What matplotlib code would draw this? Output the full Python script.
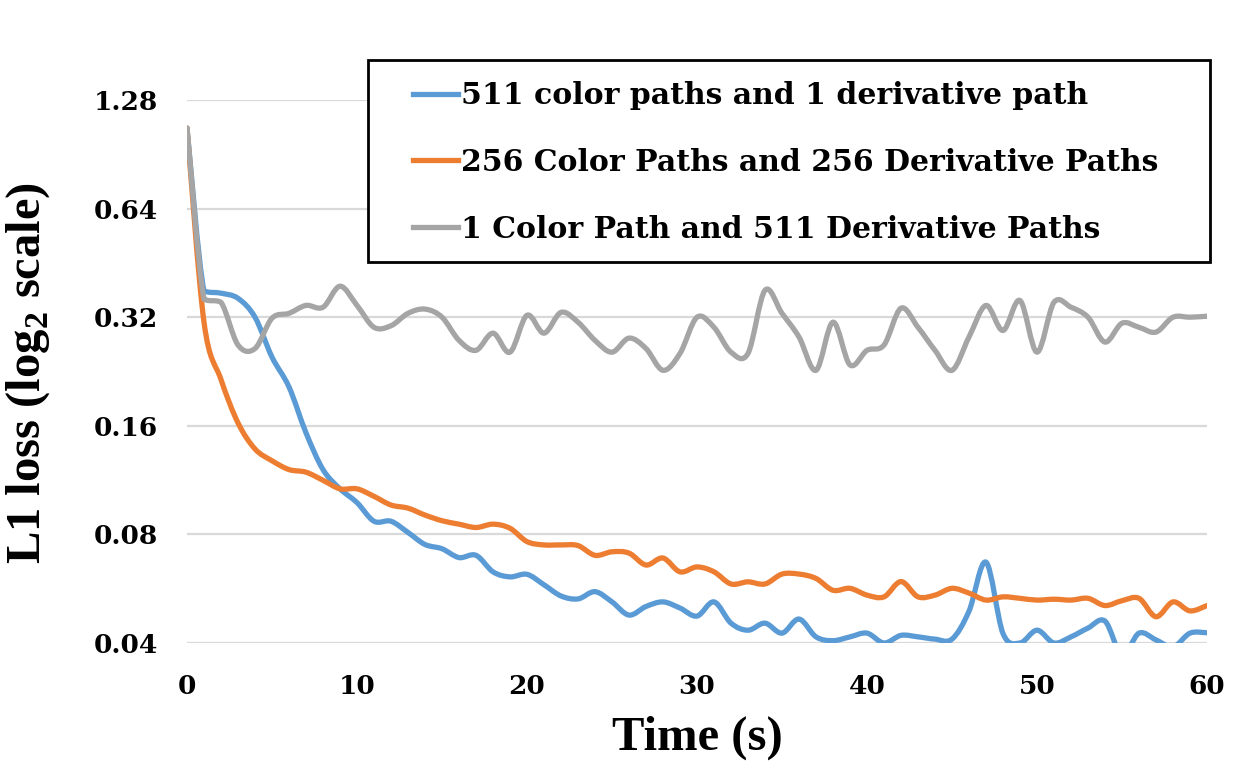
import numpy as np
import matplotlib.pyplot as plt
from matplotlib.path import Path
from matplotlib.patches import PathPatch, Rectangle
from matplotlib.lines import Line2D
from matplotlib.ticker import FixedLocator, NullLocator

# data (seconds, L1 loss)
time_s = list(range(61))

blue = [1.07, 0.378, 0.373, 0.361, 0.320, 0.248, 0.205, 0.153, 0.121, 0.107,
        0.098, 0.087, 0.087, 0.081, 0.075, 0.073, 0.069, 0.070, 0.063, 0.061,
        0.062, 0.058, 0.054, 0.053, 0.0555, 0.052, 0.0478, 0.0505, 0.052, 0.050,
        0.0475, 0.052, 0.0454, 0.0434, 0.0454, 0.0426, 0.0466, 0.0416, 0.0406, 0.0416,
        0.0426, 0.040, 0.042, 0.0416, 0.041, 0.041, 0.049, 0.067, 0.0425, 0.040,
        0.0434, 0.040, 0.0416, 0.044, 0.046, 0.037, 0.0426, 0.0408, 0.039, 0.0426,
        0.0427]

orange = [1.07, 0.31, 0.215, 0.163, 0.138, 0.128, 0.121, 0.119, 0.113, 0.107,
          0.107, 0.102, 0.0965, 0.0946, 0.0905, 0.0873, 0.0854, 0.0836, 0.0854, 0.0832,
          0.0764, 0.0748, 0.0748, 0.0745, 0.070, 0.0716, 0.071, 0.0658, 0.0688, 0.063,
          0.065, 0.063, 0.0583, 0.0591, 0.0583, 0.0621, 0.0621, 0.0604, 0.056, 0.0567,
          0.0543, 0.0537, 0.0592, 0.0537, 0.0543, 0.0567, 0.055, 0.0526, 0.0537, 0.0532,
          0.0526, 0.0529, 0.0526, 0.0532, 0.0508, 0.0524, 0.0532, 0.0473, 0.052, 0.0491,
          0.0508]

gray = [1.07, 0.359, 0.352, 0.268, 0.262, 0.318, 0.328, 0.345, 0.341, 0.39,
        0.345, 0.300, 0.303, 0.328, 0.337, 0.320, 0.276, 0.259, 0.289, 0.256,
        0.324, 0.289, 0.330, 0.310, 0.276, 0.256, 0.280, 0.262, 0.228, 0.254,
        0.320, 0.300, 0.256, 0.254, 0.380, 0.328, 0.282, 0.228, 0.310, 0.236,
        0.259, 0.268, 0.339, 0.300, 0.259, 0.228, 0.282, 0.345, 0.294, 0.356,
        0.256, 0.352, 0.341, 0.320, 0.273, 0.308, 0.300, 0.291, 0.320, 0.320,
        0.322]

labels = ['511 color paths and 1 derivative path',
          '256 Color Paths and 256 Derivative Paths',
          '1 Color Path and 511 Derivative Paths']
colors = ['#5B9BD5', '#ED7D31', '#A5A5A5']
yticks = [0.04, 0.08, 0.16, 0.32, 0.64, 1.28]
xticks = [0, 10, 20, 30, 40, 50, 60]


def smooth_path(x, y):
    # excel-like smoothed line: bezier segments built in log2 space;
    # next to a very large jump the control point is kept in the segment's range
    lx = np.asarray(x, float)
    ly = np.log2(np.asarray(y, float))
    n = len(lx)
    verts = [(lx[0], ly[0])]
    codes = [Path.MOVETO]
    for i in range(n - 1):
        a = max(i - 1, 0)
        d = min(i + 2, n - 1)
        lo, hi = min(ly[i], ly[i + 1]), max(ly[i], ly[i + 1])
        c1y = ly[i] + (ly[i + 1] - ly[a]) / 6
        c2y = ly[i + 1] - (ly[d] - ly[i]) / 6
        if abs(ly[a] - ly[i]) > 1 or abs(ly[d] - ly[i + 1]) > 1:
            c1y = np.clip(c1y, lo, hi)
            c2y = np.clip(c2y, lo, hi)
        c1 = (lx[i] + (lx[i + 1] - lx[a]) / 6, c1y)
        c2 = (lx[i + 1] - (lx[d] - lx[i]) / 6, c2y)
        verts += [c1, c2, (lx[i + 1], ly[i + 1])]
        codes += [Path.CURVE4] * 3
    verts = np.array(verts)
    verts[:, 1] = 2 ** verts[:, 1]
    return Path(verts, codes)


fig = plt.figure(figsize=(12.52, 7.81), dpi=100)
ax = fig.add_axes([187 / 1252, 1 - 643 / 781, 1020 / 1252, 543 / 781])
ax.set_yscale('log', base=2)
ax.set_xlim(0, 60)
ax.set_ylim(0.04, 1.28)

handles = []
for series, c, lab in zip([blue, orange, gray], colors, labels):
    patch = PathPatch(smooth_path(time_s, series), facecolor='none', edgecolor=c,
                      lw=3.8, capstyle='round', joinstyle='round', zorder=3)
    ax.add_patch(patch)
    handles.append(Line2D([], [], color=c, lw=3.8, label=lab))

ax.yaxis.set_major_locator(FixedLocator(yticks))
ax.yaxis.set_minor_locator(NullLocator())
ax.set_yticklabels(['%.2f' % v for v in yticks])
ax.set_xticks(xticks)
ax.grid(axis='y', color='#d9d9d9', lw=1.6)
ax.grid(axis='x', visible=False)
ax.set_axisbelow(True)
for s in ax.spines.values():
    s.set_visible(False)
ax.tick_params(length=0)
ax.tick_params(axis='y', pad=21)
ax.tick_params(axis='x', pad=22)
for lbl in ax.get_xticklabels() + ax.get_yticklabels():
    lbl.set_fontfamily('DejaVu Serif')
    lbl.set_fontweight('bold')
    lbl.set_fontsize(19)

plt.rcParams['mathtext.fontset'] = 'custom'
plt.rcParams['mathtext.bf'] = 'Liberation Serif:bold'
plt.rcParams['mathtext.rm'] = 'Liberation Serif:bold'
fig.text(28 / 1252, 1 - 373 / 781, r'L1 loss (log$_\mathbf{2}$ scale)', rotation=90,
         ha='center', va='center', fontsize=35, fontweight='bold', family='Liberation Serif')
fig.text(697 / 1252, 1 - 738 / 781, 'Time (s)', ha='center', va='center',
         fontsize=35, fontweight='bold', family='Liberation Serif')

# legend box drawn separately: it is wider than matplotlib's even padding gives
fig.add_artist(Rectangle((368 / 1252, 1 - 262 / 781), 842 / 1252, 202 / 781,
                         transform=fig.transFigure, facecolor='white',
                         edgecolor='black', lw=2, zorder=4))
leg = fig.legend(handles=handles, loc='upper left', bbox_to_anchor=(413 / 1252, 1 - 81 / 781),
                 prop={'family': 'DejaVu Serif', 'weight': 'bold', 'size': 21.5},
                 frameon=False, handlelength=1.5, handletextpad=0.12,
                 labelspacing=1.27, borderpad=0, borderaxespad=0)
leg.set_zorder(5)

fig.savefig('out.png', dpi=100)
